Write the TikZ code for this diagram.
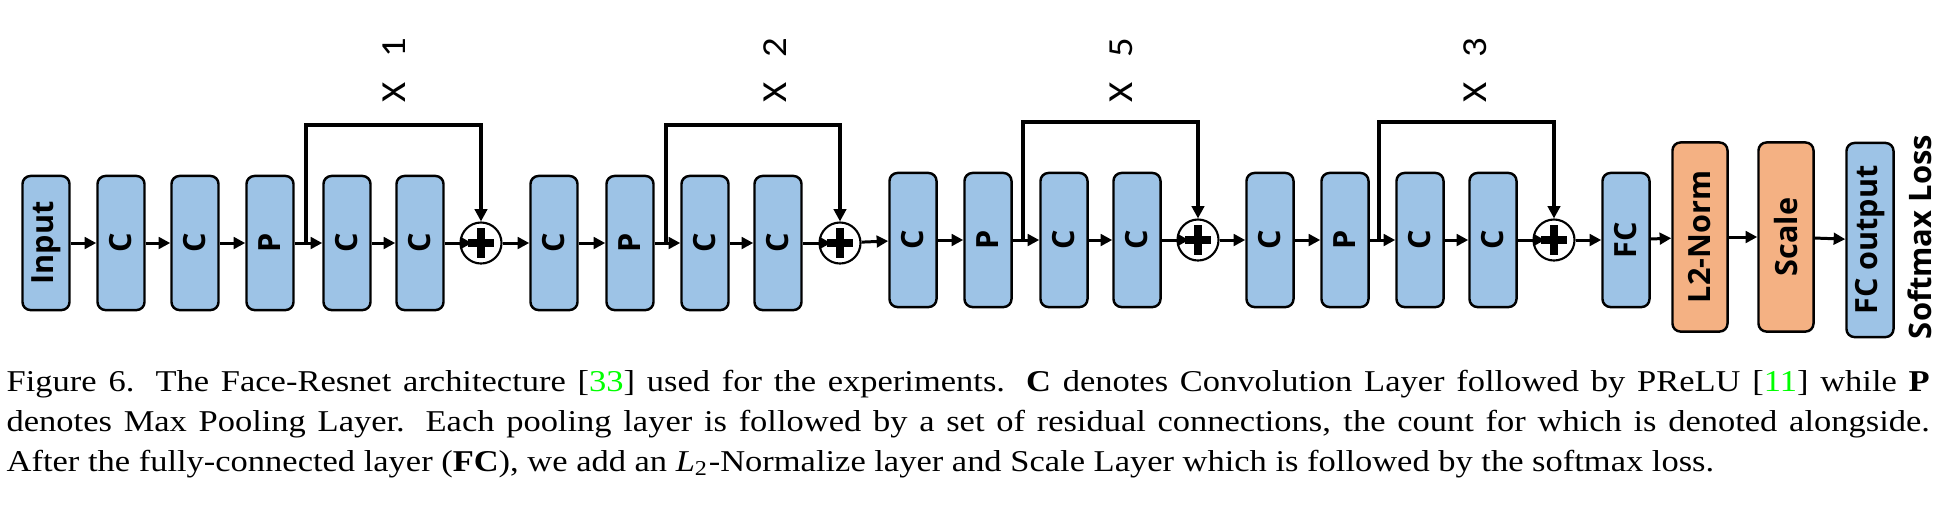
\documentclass[tikz,border=0pt]{standalone}
\usepackage{fontspec}
\usepackage{graphicx}
\setmainfont{Liberation Serif}
\setsansfont{Open Sans}
\newfontfamily\capfont{Liberation Serif}[FakeStretch=1.14]
\newfontfamily\countfont{Carlito}[FakeStretch=1.1]
\usetikzlibrary{arrows.meta,calc,positioning}

\definecolor{layerblue}{HTML}{9DC3E6}
\definecolor{layerorange}{HTML}{F4B183}
\definecolor{citegreen}{rgb}{0,1,0}

\tikzset{
  layer/.style={draw=black, line width=0.7pt, rounded corners=0.08cm, fill=layerblue,
    minimum width=0.47cm, minimum height=1.34cm, inner sep=0pt,
    font=\sffamily\bfseries\fontsize{8.7}{10}\selectfont},
  normlayer/.style={layer, fill=layerorange, minimum width=0.55cm, minimum height=1.89cm},
  outlayer/.style={layer, minimum height=1.94cm},
  flow/.style={line width=0.85pt, -{Triangle[length=3.3pt,width=3.3pt]}},
  skip/.style={line width=1.1pt, -{Triangle[length=3.5pt,width=3.5pt]}},
  sumop/.style={circle, draw=black, fill=white, line width=0.6pt, minimum size=0.41cm, inner sep=0pt,
    path picture={
      \fill[black] ($(path picture bounding box.center)+(-13,-4)$) rectangle ($(path picture bounding box.center)+(13,4)$);
      \fill[black] ($(path picture bounding box.center)+(-4,-15)$) rectangle ($(path picture bounding box.center)+(4,15)$);
    }},
  count/.style={rotate=90, inner sep=0pt, font=\countfont\fontsize{10}{11}\selectfont}
}

\begin{document}
\begin{tikzpicture}[x=0.01cm, y=-0.01cm]
  \useasboundingbox (0,0) rectangle (1938,520);

  % first stage
  \node[layer] (inp) at (46,243) {\rotatebox{90}{Input}};
  \node[layer] (c1) at (121,243) {\rotatebox{90}{C}};
  \node[layer] (c2) at (195,243) {\rotatebox{90}{C}};
  \node[layer] (p1) at (270,243) {\rotatebox{90}{P}};
  \node[layer] (c3) at (347,243) {\rotatebox{90}{C}};
  \node[layer] (c4) at (420,243) {\rotatebox{90}{C}};
  \node[sumop] (add1) at (481,243) {};

  % second stage
  \node[layer] (c5) at (554,243) {\rotatebox{90}{C}};
  \node[layer] (p2) at (630,243) {\rotatebox{90}{P}};
  \node[layer] (c6) at (705,243) {\rotatebox{90}{C}};
  \node[layer] (c7) at (778,243) {\rotatebox{90}{C}};
  \node[sumop] (add2) at (840,243) {};

  % third stage
  \node[layer] (c8) at (913,240) {\rotatebox{90}{C}};
  \node[layer] (p3) at (988,240) {\rotatebox{90}{P}};
  \node[layer] (c9) at (1064,240) {\rotatebox{90}{C}};
  \node[layer] (c10) at (1137,240) {\rotatebox{90}{C}};
  \node[sumop] (add3) at (1198,240) {};

  % fourth stage
  \node[layer] (c11) at (1270,240) {\rotatebox{90}{C}};
  \node[layer] (p4) at (1345,240) {\rotatebox{90}{P}};
  \node[layer] (c12) at (1420,240) {\rotatebox{90}{C}};
  \node[layer] (c13) at (1493,240) {\rotatebox{90}{C}};
  \node[sumop] (add4) at (1554,240) {};

  % head
  \node[layer] (fc) at (1626,240) {\rotatebox{90}{FC}};
  \node[normlayer] (l2n) at (1700,237) {\rotatebox{90}{L2-Norm}};
  \node[normlayer] (scl) at (1786,237) {\rotatebox{90}{Scale}};
  \node[outlayer] (fco) at (1870,240) {\rotatebox{90}{FC output}};
  \node[rotate=90, inner sep=0pt, font=\sffamily\bfseries\fontsize{8.8}{10}\selectfont] (loss) at (1920,237) {Softmax Loss};

  % main path
  \foreach \a/\b in {inp/c1, c1/c2, c2/p1, p1/c3, c3/c4, add1/c5, c5/p2, p2/c6, c6/c7,
      add2/c8, c8/p3, p3/c9, c9/c10, add3/c11, c11/p4, p4/c12, c12/c13, add4/fc,
      fc/l2n, l2n/scl, scl/fco}
    \draw[flow] (\a) -- (\b);
  \foreach \a/\b in {c4/add1, c7/add2, c10/add3, c13/add4}
    \draw[flow, shorten >=0.09cm] (\a) -- (\b.center);

  % residual connections
  \coordinate (s1) at ($(p1.east)+(11,0)$);
  \coordinate (s2) at ($(p2.east)+(11,0)$);
  \coordinate (s3) at ($(p3.east)+(10,0)$);
  \coordinate (s4) at ($(p4.east)+(9,0)$);
  \draw[skip] (s1) -- ++(0,-118) -| (add1);
  \draw[skip] (s2) -- ++(0,-118) -| (add2);
  \draw[skip] (s3) -- ++(0,-118) -| (add3);
  \draw[skip] (s4) -- ++(0,-118) -| (add4);

  % repeat counts
  \node[count] (n1) at (394,70) {X\hspace{7pt}1};
  \node[count] (n2) at (775,70) {X\hspace{7pt}2};
  \node[count] (n5) at (1121,70) {X\hspace{7pt}5};
  \node[count] (n3) at (1475,70) {X\hspace{7pt}3};

  % caption
  \node[anchor=base west, text width=19.22cm, align=justify, inner sep=0pt,
    font=\capfont\fontsize{8.6}{11.5}\selectfont] (cap) at (6,391)
    {Figure 6. The Face-Resnet architecture [\textcolor{citegreen}{33}] used for the experiments.
     \textbf{C} denotes Convolution Layer followed by PReLU [\textcolor{citegreen}{11}] while \textbf{P}\linebreak
     denotes Max Pooling Layer. Each pooling layer is followed by a set of residual connections, the count for which is denoted alongside.\linebreak
     After the fully-connected layer (\textbf{FC}), we add an \textit{L}\textsubscript{2}-Normalize layer and Scale Layer which is followed by the softmax loss.};
\end{tikzpicture}
\end{document}
